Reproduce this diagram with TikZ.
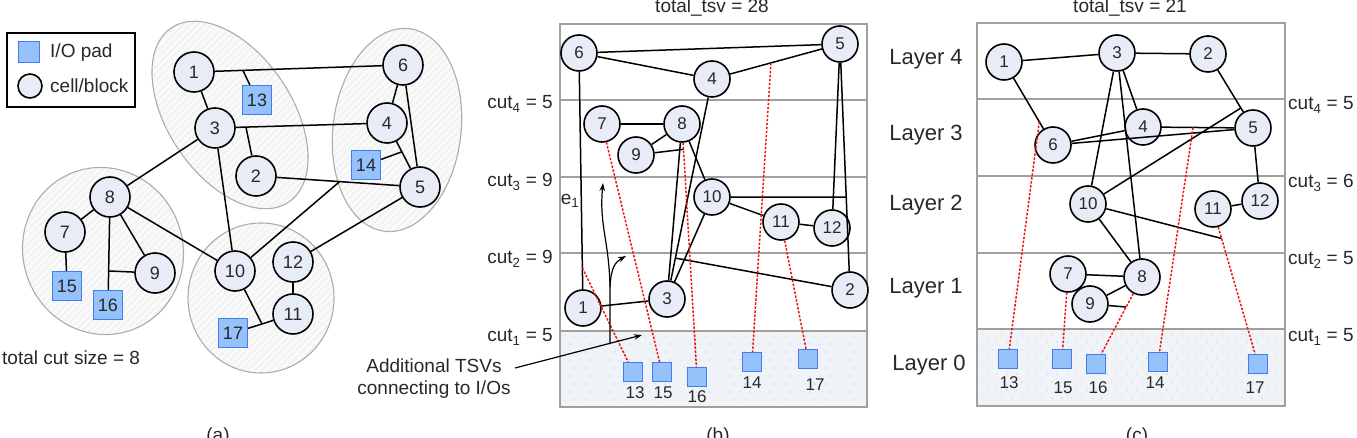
\documentclass[tikz,border=0pt]{standalone}
\usepackage{fontspec}
\setmainfont{Liberation Sans}
\usetikzlibrary{arrows.meta,patterns.meta,calc}
\definecolor{cellfill}{RGB}{232,236,246}
\definecolor{padfill}{RGB}{150,194,252}
\definecolor{paddraw}{RGB}{66,124,240}
\definecolor{tiergray}{RGB}{160,160,160}
\definecolor{layerfill}{RGB}{240,243,248}
\definecolor{tsvred}{RGB}{235,20,20}
\definecolor{txt}{RGB}{40,40,40}
\tikzset{
  cellA/.style={circle,draw=black,line width=1.6pt,fill=cellfill,minimum size=40pt,inner sep=0pt,text=txt,font=\fontsize{18}{18}\selectfont},
  cellB/.style={cellA,minimum size=36pt,font=\fontsize{17}{17}\selectfont},
  padA/.style={rectangle,draw=paddraw,line width=1.1pt,fill=padfill,minimum size=29pt,inner sep=0pt,text=txt,font=\fontsize{18}{18}\selectfont},
  padB/.style={padA,minimum size=19pt},
  padlbl/.style={inner sep=0pt,text=txt,font=\fontsize{17}{17}\selectfont},
  wire/.style={line width=1.5pt,draw=black},
  tsv/.style={line width=1.5pt,draw=tsvred,dash pattern=on 2.4pt off 1.6pt},
  lbl/.style={inner sep=0pt,text=txt,font=\fontsize{19}{22}\selectfont},
  layerlbl/.style={inner sep=0pt,text=txt,font=\fontsize{22}{24}\selectfont},
  tier/.style={draw=tiergray,line width=1.5pt},
  grpline/.style={draw=gray!65,line width=1.1pt},
  hatch/.style={pattern={Lines[angle=45,distance=5pt,line width=1.3pt]},pattern color=white},
  annot/.style={line width=1.2pt,draw=black,-{Stealth[length=8pt,width=5.5pt]}},
}
\begin{document}
\begin{tikzpicture}[x=1pt,y=-1pt]
\useasboundingbox (0,0) rectangle (1357,438);

% ================= panel (a) =================
\fill[gray!9,rotate around={-56:(230,115)}] (230,115) ellipse [x radius=105pt,y radius=62pt];
\begin{scope}\clip[rotate around={-56:(230,115)}] (230,115) ellipse [x radius=105pt,y radius=62pt];
\path[hatch] (120,0) rectangle (330,230);\end{scope}
\draw[grpline,rotate around={-56:(230,115)}] (230,115) ellipse [x radius=105pt,y radius=62pt];

\fill[gray!9,rotate around={-7:(397,130)}] (397,130) ellipse [x radius=64pt,y radius=102pt];
\begin{scope}\clip[rotate around={-7:(397,130)}] (397,130) ellipse [x radius=64pt,y radius=102pt];
\path[hatch] (320,20) rectangle (470,240);\end{scope}
\draw[grpline,rotate around={-7:(397,130)}] (397,130) ellipse [x radius=64pt,y radius=102pt];

\fill[gray!9,rotate around={20:(103,251)}] (103,251) ellipse [x radius=80pt,y radius=84pt];
\begin{scope}\clip[rotate around={20:(103,251)}] (103,251) ellipse [x radius=80pt,y radius=84pt];
\path[hatch] (10,160) rectangle (200,345);\end{scope}
\draw[grpline,rotate around={20:(103,251)}] (103,251) ellipse [x radius=80pt,y radius=84pt];

\fill[gray!9] (261,298) ellipse [x radius=73pt,y radius=75pt];
\begin{scope}\clip (261,298) ellipse [x radius=73pt,y radius=75pt];
\path[hatch] (180,215) rectangle (340,380);\end{scope}
\draw[grpline] (261,298) ellipse [x radius=73pt,y radius=75pt];

\node[cellA] (a1) at (194,72) {1};
\node[cellA] (a3) at (215,128) {3};
\node[cellA] (a2) at (256,176) {2};
\node[padA] (a13) at (257,100) {13};
\node[cellA] (a6) at (403,65) {6};
\node[cellA] (a4) at (387,123) {4};
\node[padA] (a14) at (366,165) {14};
\node[cellA] (a5) at (420,187) {5};
\node[cellA] (a8) at (110,197) {8};
\node[cellA] (a7) at (65,232) {7};
\node[padA] (a15) at (67,286) {15};
\node[padA] (a16) at (108,305) {16};
\node[cellA] (a9) at (155,273) {9};
\node[cellA] (a10) at (235,271) {10};
\node[cellA] (a12) at (293,262) {12};
\node[cellA] (a11) at (293,314) {11};
\node[padA] (a17) at (233,333) {17};

\coordinate (as13) at ($(a1)!0.234!(a6)$);
\coordinate (as2) at ($(a3)!0.18!(a4)$);
\coordinate (as14) at ($(a4)!0.45!(a5)$);
\coordinate (as10) at ($(a2)!0.51!(a5)$);
\coordinate (as9) at ($(a8)!0.685!(a16)$);
\coordinate (aj17) at (262,324);

\draw[wire] (a1) -- (a6);
\draw[wire] (as13) -- (a13);
\draw[wire] (a1) -- (a3);
\draw[wire] (a3) -- (a4);
\draw[wire] (as2) -- (a2);
\draw[wire] (a3) -- (a8);
\draw[wire] (a3) -- (a10);
\draw[wire] (a2) -- (a5);
\draw[wire] (as10) -- (a10);
\draw[wire] (a6) -- (a4);
\draw[wire] (a6) -- (a5);
\draw[wire] (a4) -- (a5);
\draw[wire] (as14) -- (a14);
\draw[wire] (a12) -- (a5);
\draw[wire] (a8) -- (a7);
\draw[wire] (a8) -- (a9);
\draw[wire] (a8) -- (a10);
\draw[wire] (a8) -- (a16);
\draw[wire] (as9) -- (a9);
\draw[wire] (a7) -- (a15);
\draw[wire] (a10) -- (aj17);
\draw[wire] (a17) -- (aj17) -- (a11);
\draw[wire] (a12) -- (a11);

\node[draw=black,line width=1.3pt,minimum width=128pt,minimum height=74pt,inner sep=0pt] (legend) at (71,70) {};
\node[padA,minimum size=21pt] (legpad) at (29,52) {};
\node[cellA,minimum size=24pt] (legcell) at (30,86) {};
\node[lbl,anchor=west] (legpadt) at (50,53) {I/O pad};
\node[lbl,anchor=west] (legcellt) at (50,86) {cell/block};
\node[lbl,anchor=west] (totcut) at (2,358) {total cut size = 8};

% ================= panel (b) =================
\fill[layerfill] (560,331) rectangle (867,407);
\foreach \i in {0,...,29} { \foreach \j in {0,...,8} {
  \fill[gray!55] ({565+10*\i+5*mod(\j,2)},{336+8*\j}) circle (0.55pt); } }
\draw[tier] (560,24) rectangle (867,407);
\foreach \yy in {100,177,253,331} { \draw[tier] (560,\yy) -- (867,\yy); }

\node[cellB] (b6) at (579,53) {6};
\node[cellB] (b5) at (840,44) {5};
\node[cellB] (b4) at (712,79) {4};
\node[cellB] (b7) at (602,124) {7};
\node[cellB] (b8) at (682,124) {8};
\node[cellB] (b9) at (636,155) {9};
\node[cellB] (b10) at (712,197) {10};
\node[cellB] (b11) at (781,222) {11};
\node[cellB] (b12) at (832,228) {12};
\node[cellB] (b2) at (850,290) {2};
\node[cellB] (b3) at (667,299) {3};
\node[cellB] (b1) at (583,308) {1};
\node[padB] (b13) at (633,372) {};
\node[padB] (b15) at (662,372) {};
\node[padB] (b16) at (697,377) {};
\node[padB] (b14) at (752,362) {};
\node[padB] (b17) at (808,359) {};
\node[padlbl] (b13l) at (635,393) {13};
\node[padlbl] (b15l) at (663,393) {15};
\node[padlbl] (b16l) at (697,397) {16};
\node[padlbl] (b14l) at (752,383) {14};
\node[padlbl] (b17l) at (815,385) {17};

\coordinate (bs14) at ($(b4)!0.46!(b5)$);
\coordinate (bs13) at ($(b6)!0.843!(b1)$);
\coordinate (bs9) at ($(b8)!0.1!(b16)$);
\coordinate (bs10) at ($(b5)!0.622!(b2)$);
\coordinate (bs2) at ($(b4)!0.814!(b3)$);

\draw[wire] (b6) -- (b5);
\draw[wire] (b6) -- (b4);
\draw[wire] (b4) -- (b5);
\draw[wire] (b6) -- (b1);
\draw[wire] (b1) -- (b3);
\draw[wire] (b7) -- (b8);
\draw[wire] (b8) -- (b9);
\draw[wire] (b9) -- (bs9);
\draw[wire] (b8) -- (b3);
\draw[wire] (b4) -- (b3);
\draw[wire] (b10) -- (b3);
\draw[wire] (b8) -- (b10);
\draw[wire] (b10) -- (bs10);
\draw[wire] (b5) -- (b12);
\draw[wire] (b5) -- (b2);
\draw[wire] (b10) -- (b11);
\draw[wire] (b11) -- (b12);
\draw[wire] (b2) -- (bs2);
\draw[tsv] (bs14) -- (b14);
\draw[tsv] (bs13) -- (b13);
\draw[tsv] (b7) -- (b15);
\draw[tsv] (b8) -- (b16);
\draw[tsv] (b11) -- (b17);

\node[lbl,align=center] (annT) at (434,379) {Additional TSVs\\connecting to I/Os};
\coordinate (annS) at (515,368);
\coordinate (annE) at (642,335);
\coordinate (trB) at (610,343);
\coordinate (trM) at (610,287);
\coordinate (e1tip) at (603,183);
\coordinate (e2tip) at (626,256);
\draw[annot] (annS) -- (annE);
\draw[annot] (trB) -- (trM) .. controls (609,240) and (599,225) .. (e1tip);
\draw[annot] (trM) .. controls (611,268) and (615,262) .. (e2tip);
\node[lbl] (e1lbl) at (570,201) {e\textsubscript{1}};

\node[lbl,anchor=base] (btitle) at (712,13) {total\_tsv = 28};
\node[lbl,anchor=east] (bc4) at (553,104) {cut\textsubscript{4} = 5};
\node[lbl,anchor=east] (bc3) at (553,182) {cut\textsubscript{3} = 9};
\node[lbl,anchor=east] (bc2) at (553,259) {cut\textsubscript{2} = 9};
\node[lbl,anchor=east] (bc1) at (553,337) {cut\textsubscript{1} = 5};

% ================= panel (c) =================
\fill[layerfill] (977,329) rectangle (1285,406);
\foreach \i in {0,...,29} { \foreach \j in {0,...,8} {
  \fill[gray!55] ({982+10*\i+5*mod(\j,2)},{334+8*\j}) circle (0.55pt); } }
\draw[tier] (977,23) rectangle (1285,406);
\foreach \yy in {99,176,253,329} { \draw[tier] (977,\yy) -- (1285,\yy); }

\node[cellB] (c1) at (1004,62) {1};
\node[cellB] (c3) at (1117,53) {3};
\node[cellB] (c2) at (1208,54) {2};
\node[cellB] (c4) at (1143,127) {4};
\node[cellB] (c5) at (1253,128) {5};
\node[cellB] (c6) at (1053,145) {6};
\node[cellB] (c10) at (1088,204) {10};
\node[cellB] (c12) at (1260,201) {12};
\node[cellB] (c11) at (1213,209) {11};
\node[cellB] (c7) at (1068,274) {7};
\node[cellB] (c8) at (1142,277) {8};
\node[cellB] (c9) at (1090,304) {9};
\node[padB] (c13) at (1008,359) {};
\node[padB] (c15) at (1062,359) {};
\node[padB] (c16) at (1096,364) {};
\node[padB] (c14) at (1158,362) {};
\node[padB] (c17) at (1258,364) {};
\node[padlbl] (c13l) at (1009,383) {13};
\node[padlbl] (c15l) at (1063,388) {15};
\node[padlbl] (c16l) at (1098,388) {16};
\node[padlbl] (c14l) at (1155,383) {14};
\node[padlbl] (c17l) at (1255,388) {17};

\coordinate (cs13) at ($(c1)!0.72!(c6)$);
\coordinate (cs10) at ($(c2)!0.73!(c5)$);
\coordinate (cs14) at ($(c4)!0.455!(c5)$);
\coordinate (cs11) at ($(c11)!0.19!(c17)$);
\coordinate (cs9) at ($(c8)!0.345!(c16)$);

\draw[wire] (c1) -- (c3);
\draw[wire] (c1) -- (c6);
\draw[wire] (c3) -- (c2);
\draw[wire] (c3) -- (c4);
\draw[wire] (c3) -- (c10);
\draw[wire] (c3) -- (c8);
\draw[wire] (c2) -- (c5);
\draw[wire] (c10) -- (cs10);
\draw[wire] (c6) -- (c4);
\draw[wire] (c6) -- (c5);
\draw[wire] (c4) -- (c5);
\draw[wire] (c5) -- (c12);
\draw[wire] (c11) -- (c12);
\draw[wire] (c10) -- (c8);
\draw[wire] (c10) -- (cs11);
\draw[wire] (c7) -- (c8);
\draw[wire] (c9) -- (c8);
\draw[wire] (c9) -- (cs9);
\draw[tsv] (cs13) -- (c13);
\draw[tsv] (cs14) -- (c14);
\draw[tsv] (c11) -- (c17);
\draw[tsv] (c8) -- (c16);
\draw[tsv] (c7) -- (c15);

\node[lbl,anchor=base] (ctitle) at (1130,13) {total\_tsv = 21};
\node[layerlbl] (L4) at (926,59) {Layer 4};
\node[layerlbl] (L3) at (926,135) {Layer 3};
\node[layerlbl] (L2) at (926,205) {Layer 2};
\node[layerlbl] (L1) at (926,288) {Layer 1};
\node[layerlbl] (L0) at (929,365) {Layer 0};
\node[lbl,anchor=west] (cc4) at (1288,105) {cut\textsubscript{4} = 5};
\node[lbl,anchor=west] (cc3) at (1288,183) {cut\textsubscript{3} = 6};
\node[lbl,anchor=west] (cc2) at (1288,260) {cut\textsubscript{2} = 5};
\node[lbl,anchor=west] (cc1) at (1288,337) {cut\textsubscript{1} = 5};

\node[lbl,anchor=base] (capa) at (218,441) {(a)};
\node[lbl,anchor=base] (capb) at (718,441) {(b)};
\node[lbl,anchor=base] (capc) at (1137,441) {(c)};
\end{tikzpicture}
\end{document}
